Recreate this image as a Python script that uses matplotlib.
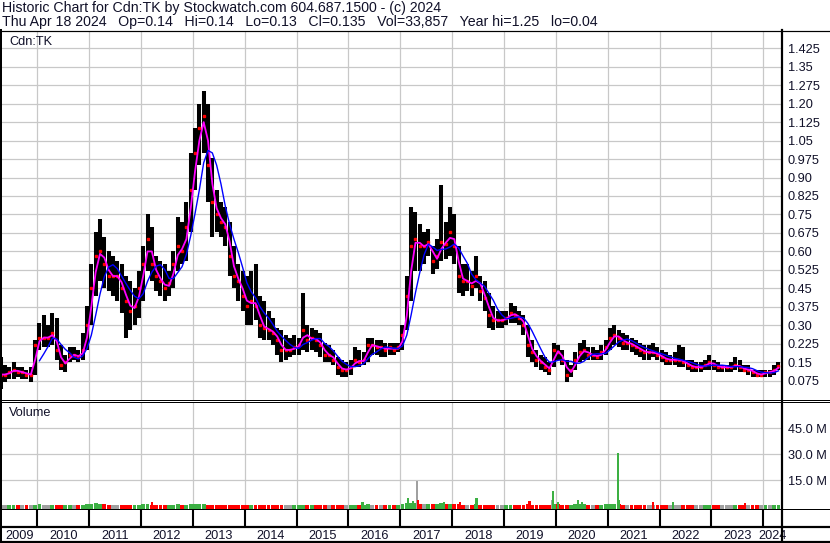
import numpy as np
import pandas as pd
import matplotlib
matplotlib.use('Agg')
import matplotlib.pyplot as plt
from matplotlib.lines import Line2D

plt.rcParams['font.family'] = ['Liberation Sans', 'DejaVu Sans']

# ---------------- data (monthly, Apr 2009 .. Apr 2024) ----------------
start_year, start_month = 2009, 4

high = [
    # 2009 Apr-Dec
    0.17, 0.14, 0.13, 0.15, 0.13, 0.13, 0.12, 0.13, 0.24,
    # 2010
    0.31, 0.34, 0.30, 0.35, 0.33, 0.22, 0.18, 0.21, 0.21, 0.20, 0.27, 0.38,
    # 2011
    0.55, 0.68, 0.73, 0.66, 0.60, 0.58, 0.56, 0.55, 0.50, 0.48, 0.45, 0.52,
    # 2012
    0.62, 0.75, 0.70, 0.58, 0.56, 0.55, 0.52, 0.60, 0.74, 0.72, 0.80, 1.00,
    # 2013
    1.10, 1.20, 1.25, 1.20, 0.98, 0.85, 0.80, 0.78, 0.72, 0.62, 0.55, 0.52,
    # 2014
    0.50, 0.52, 0.55, 0.42, 0.40, 0.36, 0.33, 0.29, 0.28, 0.26, 0.25, 0.26,
    # 2015
    0.25, 0.43, 0.30, 0.29, 0.28, 0.27, 0.23, 0.22, 0.20, 0.17, 0.16, 0.15,
    # 2016
    0.16, 0.21, 0.20, 0.19, 0.25, 0.25, 0.24, 0.24, 0.23, 0.23, 0.23, 0.23,
    # 2017
    0.30, 0.50, 0.78, 0.76, 0.71, 0.68, 0.69, 0.62, 0.65, 0.87, 0.72, 0.78,
    # 2018
    0.75, 0.62, 0.55, 0.55, 0.52, 0.58, 0.50, 0.48, 0.43, 0.38, 0.36, 0.36,
    # 2019
    0.36, 0.39, 0.38, 0.36, 0.34, 0.30, 0.24, 0.20, 0.18, 0.17, 0.15, 0.23,
    # 2020
    0.22, 0.20, 0.16, 0.14, 0.19, 0.23, 0.24, 0.21, 0.21, 0.20, 0.22, 0.24,
    # 2021
    0.29, 0.30, 0.28, 0.27, 0.26, 0.25, 0.24, 0.23, 0.22, 0.22, 0.23, 0.21,
    # 2022
    0.20, 0.19, 0.18, 0.19, 0.22, 0.21, 0.16, 0.16, 0.15, 0.15, 0.16, 0.18,
    # 2023
    0.16, 0.15, 0.14, 0.14, 0.15, 0.17, 0.16, 0.14, 0.14, 0.12, 0.12, 0.12,
    # 2024 Jan-Apr
    0.12, 0.12, 0.14, 0.15,
]

low = [
    0.04, 0.07, 0.08, 0.08, 0.09, 0.08, 0.08, 0.07, 0.10,
    0.20, 0.21, 0.21, 0.22, 0.16, 0.12, 0.11, 0.15, 0.16, 0.15, 0.16, 0.20,
    0.30, 0.42, 0.48, 0.45, 0.44, 0.42, 0.40, 0.35, 0.25, 0.28, 0.30, 0.33,
    0.40, 0.52, 0.48, 0.44, 0.42, 0.40, 0.42, 0.45, 0.52, 0.55, 0.56, 0.68,
    0.85, 0.95, 1.00, 0.80, 0.66, 0.68, 0.66, 0.62, 0.50, 0.45, 0.40, 0.36,
    0.30, 0.30, 0.32, 0.25, 0.24, 0.24, 0.22, 0.18, 0.15, 0.16, 0.17, 0.18,
    0.18, 0.20, 0.19, 0.20, 0.19, 0.17, 0.15, 0.15, 0.14, 0.10, 0.09, 0.09,
    0.10, 0.13, 0.13, 0.14, 0.15, 0.18, 0.18, 0.17, 0.17, 0.18, 0.18, 0.19,
    0.20, 0.28, 0.40, 0.52, 0.52, 0.55, 0.58, 0.51, 0.53, 0.56, 0.57, 0.58,
    0.55, 0.43, 0.42, 0.44, 0.42, 0.45, 0.40, 0.36, 0.29, 0.28, 0.29, 0.29,
    0.30, 0.31, 0.31, 0.30, 0.26, 0.17, 0.15, 0.13, 0.12, 0.11, 0.10, 0.13,
    0.16, 0.14, 0.07, 0.09, 0.12, 0.15, 0.16, 0.16, 0.16, 0.16, 0.16, 0.18,
    0.20, 0.22, 0.21, 0.20, 0.20, 0.19, 0.18, 0.17, 0.16, 0.16, 0.17, 0.16,
    0.15, 0.14, 0.14, 0.14, 0.13, 0.13, 0.12, 0.11, 0.11, 0.11, 0.12, 0.12,
    0.12, 0.11, 0.11, 0.11, 0.11, 0.12, 0.11, 0.11, 0.10, 0.09, 0.09, 0.09,
    0.09, 0.09, 0.10, 0.12,
]

close = [
    0.10, 0.10, 0.11, 0.12, 0.11, 0.11, 0.10, 0.10, 0.22,
    0.25, 0.25, 0.25, 0.27, 0.20, 0.14, 0.15, 0.18, 0.18, 0.17, 0.20, 0.30,
    0.45, 0.58, 0.60, 0.55, 0.50, 0.50, 0.50, 0.45, 0.40, 0.36, 0.38, 0.45,
    0.55, 0.65, 0.55, 0.50, 0.48, 0.45, 0.47, 0.55, 0.62, 0.60, 0.70, 0.85,
    1.00, 1.10, 1.15, 0.95, 0.80, 0.75, 0.72, 0.70, 0.58, 0.50, 0.48, 0.42,
    0.38, 0.40, 0.38, 0.30, 0.29, 0.28, 0.27, 0.24, 0.20, 0.20, 0.20, 0.21,
    0.22, 0.28, 0.24, 0.25, 0.24, 0.22, 0.18, 0.18, 0.16, 0.13, 0.12, 0.12,
    0.13, 0.16, 0.15, 0.16, 0.22, 0.22, 0.21, 0.21, 0.20, 0.21, 0.20, 0.21,
    0.26, 0.42, 0.62, 0.65, 0.62, 0.62, 0.64, 0.56, 0.58, 0.64, 0.63, 0.68,
    0.62, 0.50, 0.48, 0.48, 0.46, 0.50, 0.44, 0.41, 0.34, 0.32, 0.32, 0.32,
    0.33, 0.35, 0.34, 0.33, 0.30, 0.22, 0.19, 0.16, 0.15, 0.13, 0.12, 0.20,
    0.19, 0.16, 0.10, 0.12, 0.16, 0.19, 0.20, 0.18, 0.18, 0.17, 0.19, 0.21,
    0.25, 0.26, 0.25, 0.23, 0.23, 0.22, 0.21, 0.20, 0.19, 0.19, 0.19, 0.18,
    0.17, 0.16, 0.16, 0.16, 0.16, 0.15, 0.14, 0.13, 0.13, 0.13, 0.14, 0.15,
    0.14, 0.13, 0.13, 0.13, 0.13, 0.14, 0.13, 0.12, 0.12, 0.11, 0.10, 0.10,
    0.11, 0.11, 0.12, 0.135,
]

# typical monthly volume level (millions of shares)
volume = [
    0.4, 0.3, 0.3, 0.4, 0.3, 0.3, 0.3, 0.4, 0.8,
    0.9, 0.7, 0.6, 0.8, 0.6, 0.5, 0.4, 0.4, 0.4, 0.4, 0.6, 0.9,
    1.2, 1.4, 1.3, 1.0, 0.8, 0.7, 0.6, 0.7, 0.8, 0.7, 0.6, 0.7,
    0.9, 1.0, 0.8, 0.6, 0.6, 0.5, 0.5, 0.7, 0.9, 0.8, 0.8, 1.0,
    1.0, 0.9, 1.0, 0.8, 0.7, 0.6, 0.5, 0.5, 0.6, 0.6, 0.5, 0.6,
    0.6, 0.6, 0.7, 0.5, 0.5, 0.4, 0.4, 0.4, 0.5, 0.4, 0.4, 0.4,
    0.4, 0.8, 0.5, 0.4, 0.4, 0.4, 0.4, 0.4, 0.4, 0.5, 0.5, 0.4,
    0.5, 0.7, 0.5, 0.5, 0.9, 0.6, 0.5, 0.5, 0.5, 0.5, 0.5, 0.6,
    1.2, 1.8, 1.9, 1.6, 1.2, 1.0, 1.1, 1.0, 1.1, 1.5, 1.0, 1.1,
    1.1, 1.0, 0.8, 0.7, 0.7, 1.1, 0.8, 0.7, 0.8, 0.6, 0.6, 0.6,
    0.6, 0.6, 0.6, 0.6, 0.7, 1.0, 0.8, 0.6, 0.6, 0.7, 0.8, 1.3,
    1.0, 0.8, 0.8, 0.7, 0.9, 1.2, 1.0, 0.8, 0.7, 0.7, 0.7, 0.9,
    1.2, 1.1, 1.0, 0.8, 0.7, 0.7, 0.6, 0.6, 0.6, 0.6, 0.7, 0.6,
    0.6, 0.6, 0.5, 0.6, 0.8, 0.6, 0.5, 0.5, 0.5, 0.5, 0.5, 0.5,
    0.5, 0.5, 0.5, 0.5, 0.5, 0.7, 0.5, 0.5, 0.5, 0.5, 0.5, 0.5,
    0.5, 0.5, 0.6, 0.7,
]

# individual high-volume days (decimal year, millions, colour code)
spike_dates = [2012.21, 2016.27, 2017.15, 2017.24, 2017.32, 2017.34, 2017.84,
               2018.15, 2018.47, 2019.49, 2019.92, 2019.95, 2020.04, 2020.42,
               2020.50, 2021.19, 2021.22, 2021.87, 2022.26, 2023.65]
spike_volume = [2.0, 2.5, 4.4, 3.0, 14.4, 3.5, 2.5,
                2.3, 4.4, 2.8, 3.4, 8.6, 2.5, 3.3,
                2.5, 30.5, 3.3, 2.3, 2.5, 1.6]
spike_kind = ['d', 'u', 'u', 'u', 'n', 'd', 'u',
              'd', 'u', 'd', 'n', 'u', 'u', 'u',
              'u', 'u', 'u', 'd', 'u', 'd']

price_ticks = [0.075, 0.15, 0.225, 0.30, 0.375, 0.45, 0.525, 0.60, 0.675, 0.75,
               0.825, 0.90, 0.975, 1.05, 1.125, 1.20, 1.275, 1.35, 1.425]
price_tick_labels = ['0.075', '0.15', '0.225', '0.30', '0.375', '0.45', '0.525',
                     '0.60', '0.675', '0.75', '0.825', '0.90', '0.975', '1.05',
                     '1.125', '1.20', '1.275', '1.35', '1.425']
volume_ticks = [15, 30, 45]
volume_tick_labels = ['15.0 M', '30.0 M', '45.0 M']
years = list(range(2009, 2025))

header1 = 'Historic Chart for Cdn:TK by Stockwatch.com 604.687.1500 - (c) 2024'
header2 = ('Thu Apr 18 2024   Op=0.14   Hi=0.14   Lo=0.13   Cl=0.135   '
           'Vol=33,857   Year hi=1.25   lo=0.04')

# ---------------- figure / layout ----------------
W, H = 830, 543
fig = plt.figure(figsize=(W / 100, H / 100), dpi=100)
fig.patch.set_facecolor('white')

def ax_px(x0, y0, x1, y1):
    return fig.add_axes([x0 / W, 1 - y1 / H, (x1 - x0) / W, (y1 - y0) / H])

n = len(close)
t = np.array([start_year + (start_month - 1 + i) / 12 + 1 / 24 for i in range(n)])
s_close = pd.Series(close)
ma_short = s_close.rolling(2, min_periods=1).mean()
ma_long = s_close.rolling(5, min_periods=5).mean()
ma_long[t < 2010.0] = np.nan

XL = (2009.30, 2024.36)
GRID = '#c8c8c8'
TXT = '#101028'
FS = 9.2

# price panel
ax = ax_px(1, 31, 782, 400.5)
ax.set_xlim(*XL)
ax.set_ylim(-0.0054, 1.495)
for y in price_ticks:
    ax.axhline(y, color=GRID, lw=0.9, zorder=0)
for yr in years[1:]:
    ax.axvline(yr, color=GRID, lw=0.9, zorder=0)
ax.vlines(t, low, high, color='black', lw=2.9, zorder=2)
ax.plot(t, close, ls='none', marker='s', ms=1.8, color='red', mec='red', zorder=3)
ax.plot(t, ma_short, color='#ff00ff', lw=1.3, zorder=4)
ax.plot(t, ma_long, color='#0000ff', lw=1.0, zorder=5)
ax.yaxis.tick_right()
ax.set_yticks(price_ticks)
ax.set_yticklabels(price_tick_labels)
ax.tick_params(axis='y', length=0, pad=4, labelsize=FS, labelcolor=TXT)
ax.set_xticks([])
for s in ax.spines.values():
    s.set_visible(False)
ax.text(8 / 781, 1 - 11 / 369.5, 'Cdn:TK', transform=ax.transAxes, fontsize=FS,
        color=TXT, va='center', ha='left')

# volume panel
vx = ax_px(1, 402, 782, 508.5)
vx.set_xlim(*XL)
vx.set_ylim(-1.51, 60.3)
for y in volume_ticks:
    vx.axhline(y, color=GRID, lw=0.9, zorder=0)
for yr in years[1:]:
    vx.axvline(yr, color=GRID, lw=0.9, zorder=0)
cols = []
for i in range(n):
    if i == 0 or close[i] == close[i - 1]:
        cols.append('#a0a0a0')
    elif close[i] > close[i - 1]:
        cols.append('#3cb043')
    else:
        cols.append('#ff0000')
vx.bar(t, np.array(volume) + 1.51, bottom=-1.51, width=1 / 12 * 0.9, color=cols, zorder=2)
kind_col = {'u': '#3cb043', 'd': '#ff0000', 'n': '#a0a0a0'}
vx.bar(spike_dates, np.array(spike_volume) + 1.51, bottom=-1.51, width=0.042,
       color=[kind_col[k] for k in spike_kind], zorder=3)
vx.yaxis.tick_right()
vx.set_yticks(volume_ticks)
vx.set_yticklabels(volume_tick_labels)
vx.tick_params(axis='y', length=0, pad=4, labelsize=FS, labelcolor=TXT)
vx.set_xticks([])
for s in vx.spines.values():
    s.set_visible(False)
vx.text(8 / 781, 1 - 11 / 106.5, 'Volume', transform=vx.transAxes, fontsize=FS,
        color=TXT, va='center', ha='left')

# date band
dx = ax_px(1, 509, 782, 527)
dx.set_xlim(*XL)
dx.set_ylim(0, 1)
for yr in years[1:]:
    dx.axvline(yr, color='black', lw=1.5)
mids = []
for yr in years:
    a = max(yr, XL[0]); b = min(yr + 1, XL[1])
    mids.append((a + b) / 2)
dx.set_xticks(mids)
dx.set_xticklabels([str(y) for y in years])
dx.tick_params(axis='x', length=0, pad=2.2, labelsize=FS, labelcolor=TXT)
dx.set_yticks([])
for s in dx.spines.values():
    s.set_visible(False)

# frame lines (figure pixel coordinates)
def hline(y, x0=0, x1=W, lw=1.0):
    fig.add_artist(Line2D([x0 / W, x1 / W], [1 - y / H, 1 - y / H], color='black',
                          lw=lw * 0.72, transform=fig.transFigure))

def vline(x, y0, y1, lw=1.0):
    fig.add_artist(Line2D([x / W, x / W], [1 - y0 / H, 1 - y1 / H], color='black',
                          lw=lw * 0.72, transform=fig.transFigure))

hline(30.5, lw=1.2)
hline(399.5)
hline(401.5)
hline(509.0)
hline(527.0, lw=2.2)
hline(542.0, lw=2.2)
vline(1.0, 30, 543, lw=2.0)
vline(781.5, 30, 543, lw=2.2)

fig.text(2 / W, 1 - 8 / H, header1, fontsize=10.2, color=TXT, va='center', ha='left')
fig.text(2 / W, 1 - 22 / H, header2, fontsize=10.2, color=TXT, va='center', ha='left')

fig.savefig('out.png', dpi=100)
